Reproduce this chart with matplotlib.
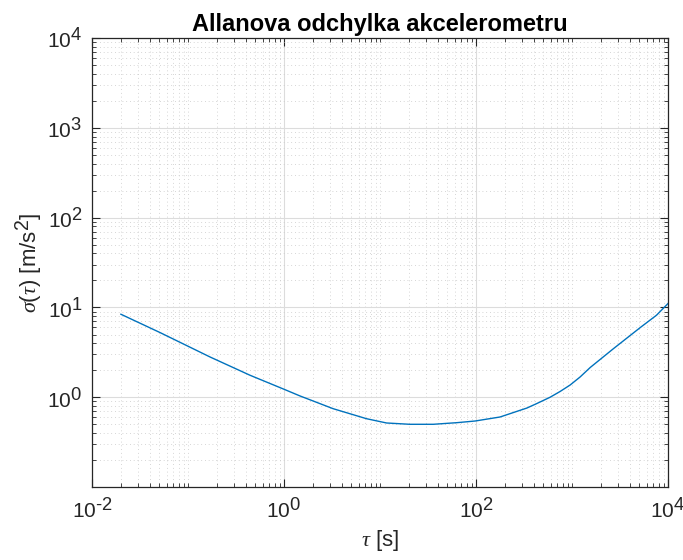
import matplotlib
matplotlib.use("Agg")
import matplotlib.pyplot as plt
import matplotlib._mathtext as _mt
from matplotlib.ticker import LogLocator, FixedLocator, NullFormatter, FuncFormatter
import numpy as np

tau = [0.02, 0.0513, 0.170, 0.443, 1.0, 1.47, 1.86, 3.24, 7.24, 11.7, 20.4,
       35.9, 63, 98, 178, 339, 427, 589, 750, 955, 1211, 1549, 2692, 5129,
       7586, 10000]
sigma = [8.41, 5.25, 2.81, 1.76, 1.23, 1.035, 0.94, 0.748, 0.578, 0.518,
         0.501, 0.501, 0.522, 0.545, 0.604, 0.76, 0.85, 1.0, 1.16, 1.37,
         1.68, 2.15, 3.47, 5.97, 8.20, 11.07]
xticks_major = [1e-2, 1e0, 1e2, 1e4]
yticks_major = [1e0, 1e1, 1e2, 1e3, 1e4]

_mt.SHRINK_FACTOR = 0.88

plt.rcParams['font.family'] = ['Liberation Sans', 'DejaVu Sans']
plt.rcParams['mathtext.fontset'] = 'custom'
plt.rcParams['mathtext.rm'] = 'Liberation Sans'
plt.rcParams['mathtext.it'] = 'Liberation Serif:italic'

fig = plt.figure(figsize=(6.83, 5.6), dpi=100)
ax = fig.add_axes([92/683, 1-487/560, (668-92)/683, (487-38)/560])

ax.plot(tau, sigma, color='#0072BD', lw=1.0)
ax.set_xscale('log')
ax.set_yscale('log')
ax.set_xlim(1e-2, 1e4)
ax.set_ylim(0.1004, 1e4)

def fmt(v, pos):
    e = int(round(np.log10(v)))
    s = str(abs(e))
    if e < 0:
        s = '\u2010' + s
    return r'$\mathregular{10^{%s}}$' % s

ax.xaxis.set_major_locator(FixedLocator(xticks_major))
ax.xaxis.set_major_formatter(FuncFormatter(fmt))
xminor = [s * 10.0**d for d in range(-2, 4) for s in range(1, 10)
          if s * 10.0**d not in xticks_major]
ax.xaxis.set_minor_locator(FixedLocator(xminor))
ax.xaxis.set_minor_formatter(NullFormatter())
ax.yaxis.set_major_locator(FixedLocator(yticks_major))
ax.yaxis.set_major_formatter(FuncFormatter(fmt))
ax.yaxis.set_minor_locator(LogLocator(base=10, subs=np.arange(2, 10)))
ax.yaxis.set_minor_formatter(NullFormatter())

ax.grid(True, which='major', color='#dcdcdc', lw=0.8, ls='-')
ax.grid(True, which='minor', color='#c8c8c8', lw=0.6, ls=(0, (1, 3.5)))
ax.set_axisbelow(True)

ax.tick_params(which='both', direction='in', top=True, right=True,
               color='#262626', labelcolor='#262626', labelsize=15)
ax.tick_params(which='major', length=6, width=0.8, pad=7)
ax.tick_params(which='minor', length=3, width=0.6)
for sp in ax.spines.values():
    sp.set_color('#262626')
    sp.set_linewidth(0.9)

ax.set_title('Allanova odchylka akcelerometru', fontsize=17,
             fontweight='bold', color='black', pad=5)
ax.set_xlabel(r'$\tau$ [s]', fontsize=16, color='#262626', labelpad=4)
ax.set_ylabel(r'$\sigma(\tau)$ [m/s$^2$]', fontsize=16, color='#262626',
              labelpad=2)

fig.savefig('out.png', dpi=100, facecolor='white')
